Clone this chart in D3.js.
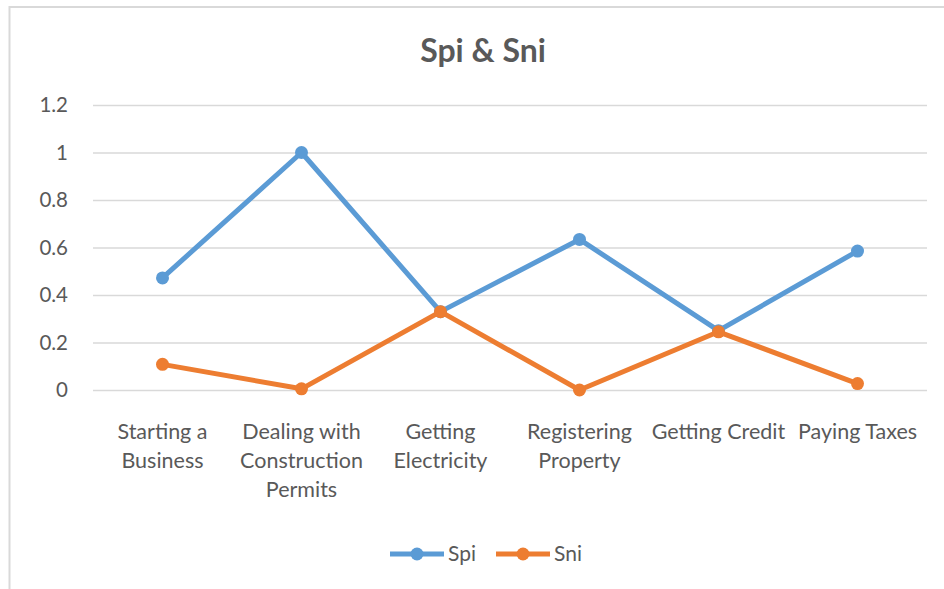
<!DOCTYPE html>
<html>
<head>
<meta charset="utf-8">
<script src="https://cdn.jsdelivr.net/npm/d3@7"></script>
<style>
  body { margin: 0; background: #fff; }
  text { font-family: Lato, "Open Sans", sans-serif; fill: #595959; }
</style>
</head>
<body>
<div id="chart"></div>
<script>
// data
var categories = ["Starting a Business", "Dealing with Construction Permits", "Getting Electricity",
  "Registering Property", "Getting Credit", "Paying Taxes"];
var catLines = [["Starting a", "Business"], ["Dealing with", "Construction", "Permits"], ["Getting", "Electricity"],
  ["Registering", "Property"], ["Getting Credit"], ["Paying Taxes"]];
var spi = [0.472, 1.0, 0.33, 0.634, 0.25, 0.585];
var sni = [0.108, 0.005, 0.33, 0.0, 0.245, 0.027];
var yTicks = [0, 0.2, 0.4, 0.6, 0.8, 1, 1.2];
var seriesNames = ["Spi", "Sni"];
var colors = ["#5B9BD5", "#ED7D31"];

var svgWidth = 944;
var svgHeight = 589;
var margin = { top: 105, right: 17, bottom: 199, left: 93 };
var width = svgWidth - margin.left - margin.right;
var height = svgHeight - margin.top - margin.bottom;

var svg = d3.select("#chart")
  .append("svg")
  .attr("width", svgWidth)
  .attr("height", svgHeight);

// chart border (runs off the right and bottom)
svg.append("rect")
  .attr("x", 9.5).attr("y", 7)
  .attr("width", 960).attr("height", 600)
  .attr("fill", "none")
  .attr("stroke", "#d9d9d9")
  .attr("stroke-width", 2);

svg.append("text")
  .attr("x", 483).attr("y", 62)
  .attr("text-anchor", "middle")
  .style("font-size", "32px")
  .style("font-weight", "bold")
  .text("Spi & Sni");

var chartGroup = svg.append("g")
  .attr("transform", `translate(${margin.left}, ${margin.top})`);

var xScale = d3.scaleBand().domain(categories).range([0, width]);
var yScale = d3.scaleLinear().domain([0, 1.2]).range([height, 0]);

// gridlines + y labels
var yAxis = chartGroup.append("g")
  .call(d3.axisLeft(yScale).tickValues(yTicks).tickSize(-width).tickPadding(25).tickFormat(d3.format("")));
yAxis.select(".domain").remove();
yAxis.selectAll(".tick line").attr("stroke", "#d9d9d9").attr("stroke-width", 1.5);
yAxis.selectAll(".tick text").style("font-size", "20.5px").style("font-family", "Lato, 'Open Sans', sans-serif").attr("fill", "#595959");

// x labels
var xLabels = chartGroup.append("g")
  .attr("transform", `translate(0, ${height})`)
  .selectAll("text")
  .data(categories)
  .enter()
  .append("text")
  .attr("x", d => xScale(d) + xScale.bandwidth() / 2)
  .attr("y", 49)
  .attr("text-anchor", "middle")
  .style("font-size", "21.5px");

xLabels.each(function(d, i) {
  var t = d3.select(this);
  catLines[i].forEach(function(line, j) {
    t.append("tspan")
      .attr("x", xScale(d) + xScale.bandwidth() / 2)
      .attr("dy", j === 0 ? 0 : 29)
      .text(line);
  });
});

var line = d3.line()
  .x((d, i) => xScale(categories[i]) + xScale.bandwidth() / 2)
  .y(d => yScale(d));

[spi, sni].forEach(function(values, k) {
  chartGroup.append("path")
    .datum(values)
    .attr("fill", "none")
    .attr("stroke", colors[k])
    .attr("stroke-width", 5)
    .attr("stroke-linejoin", "round")
    .attr("d", line);

  chartGroup.selectAll(".dot" + k)
    .data(values)
    .enter()
    .append("circle")
    .attr("cx", (d, i) => xScale(categories[i]) + xScale.bandwidth() / 2)
    .attr("cy", d => yScale(d))
    .attr("r", 6.5)
    .attr("fill", colors[k]);
});

// legend
var legend = svg.append("g").attr("transform", "translate(390, 554)");
seriesNames.forEach(function(name, k) {
  var g = legend.append("g").attr("transform", `translate(${k * 106}, 0)`);
  g.append("line")
    .attr("x1", 0).attr("x2", 54)
    .attr("stroke", colors[k]).attr("stroke-width", 5);
  g.append("circle")
    .attr("cx", 27).attr("r", 6.5).attr("fill", colors[k]);
  g.append("text")
    .attr("x", 58).attr("y", 7)
    .style("font-size", "21px")
    .text(name);
});
</script>
</body>
</html>
